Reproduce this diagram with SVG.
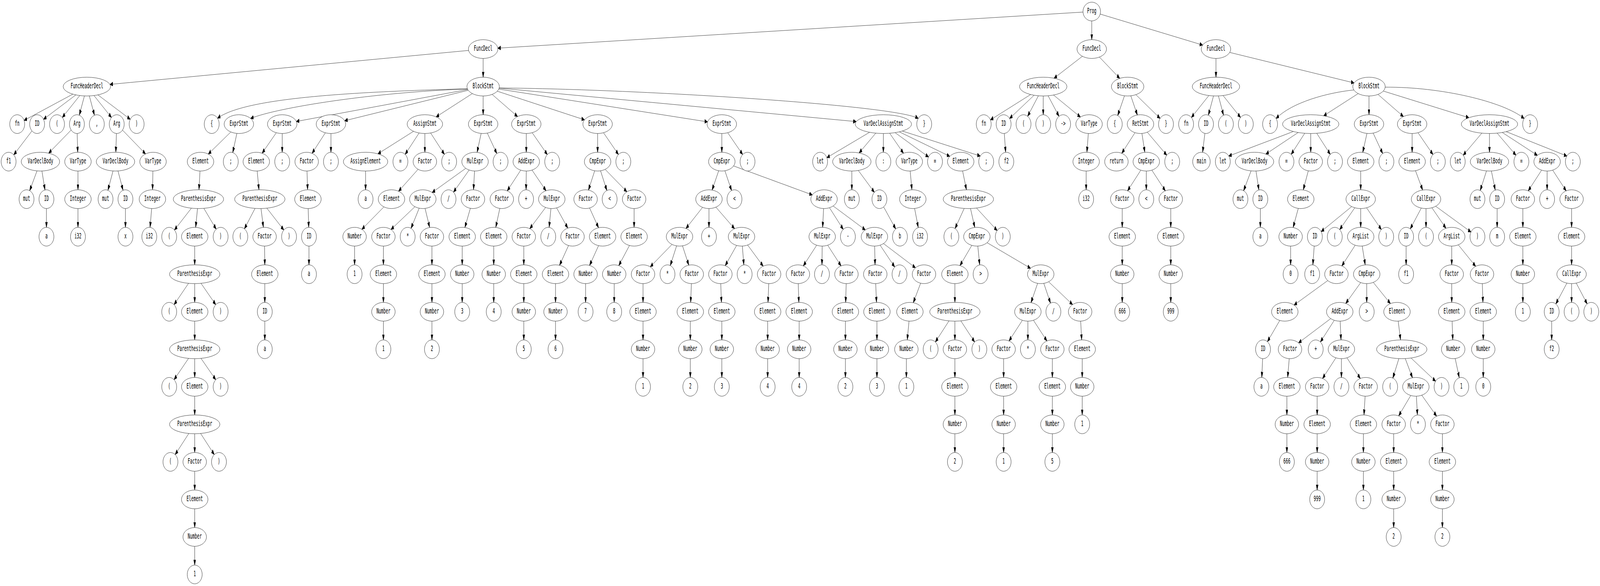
<svg xmlns="http://www.w3.org/2000/svg" width="7716" height="1499" viewBox="0 0 7716 1499" preserveAspectRatio="none" style="width:100vw;height:100vh;display:block">
<style>
.n ellipse{fill:#fff;stroke:#000;stroke-width:1}
.n text{font-family:"DejaVu Sans Mono","Liberation Mono",monospace;font-size:18.67px;text-anchor:middle;fill:#000;transform:translateY(-0.8px)}
.e path{fill:none;stroke:#000;stroke-width:1;marker-end:url(#ah)}
</style>
<defs>
<marker id="ah" markerUnits="userSpaceOnUse" markerWidth="15" markerHeight="11" refX="14" refY="5.2" orient="auto"><path d="M0,0 L14,5.2 L0,10.4 z" fill="#000" stroke="#000" stroke-width="1"/></marker>
</defs>
<rect width="7716" height="1499" fill="#fff"/>
<g id="edges" class="e">
<path d="M5222.8,30.9 L2400.7,123.2"/>
<path d="M5265,53.5 L5265,101.5"/>
<path d="M5305.7,36 L5799.7,115.2"/>
<path d="M2259.7,129 L530.2,215.9"/>
<path d="M2330,149.5 L2330,197.5"/>
<path d="M5219.8,144 L5083.1,200.1"/>
<path d="M5302,146 L5400.1,200.5"/>
<path d="M5864,149.5 L5864,197.5"/>
<path d="M5930.4,134.1 L6529.9,212.1"/>
<path d="M351.3,240.8 L116.1,308"/>
<path d="M365.9,242.7 L209.9,305.1"/>
<path d="M384.7,244.4 L300.5,300.5"/>
<path d="M407.1,245.4 L382.4,294.7"/>
<path d="M430.9,245.4 L455.6,294.7"/>
<path d="M453.3,244.4 L537.5,300.5"/>
<path d="M472.1,242.7 L628.1,305.1"/>
<path d="M154.1,334.9 L66.4,396.1"/>
<path d="M343.1,332.7 L234.7,391.8"/>
<path d="M372.2,341.5 L374.8,389.5"/>
<path d="M561.5,341.5 L558.5,389.5"/>
<path d="M590.8,332.8 L701.9,393.7"/>
<path d="M178.5,437.1 L143.2,487.7"/>
<path d="M202.2,437.4 L216.9,486"/>
<path d="M376,437.5 L376,485.5"/>
<path d="M545.1,437.3 L520.4,486.7"/>
<path d="M568.9,437.3 L593.6,486.7"/>
<path d="M737.3,437.5 L735.7,485.5"/>
<path d="M224,533.5 L224,581.5"/>
<path d="M376,533.5 L376,581.5"/>
<path d="M605,533.5 L605,581.5"/>
<path d="M731.3,533.5 L723.7,581.6"/>
<path d="M2254,227 C1700,235 1180,250 1049,302.5"/>
<path d="M2254.4,227.7 C1800,236 1340,275 1208.6,302.9"/>
<path d="M2255.5,228.9 L1429.2,310.7"/>
<path d="M2258,230.9 L1662.3,308.8"/>
<path d="M2277.7,239.4 L2103.3,299"/>
<path d="M2330,245.5 L2330,293.5"/>
<path d="M2373.3,241.5 L2496,298.1"/>
<path d="M2398.1,233.3 L2818.8,306.5"/>
<path d="M2405.5,227.8 L3412,311.7"/>
<path d="M2407.4,225.4 L4129,311"/>
<path d="M2408,225 C3100,228 4330,270 4428.2,303.1"/>
<path d="M1113.2,337.6 L1004.4,394.1"/>
<path d="M1142.3,341.3 L1122.4,390.3"/>
<path d="M964.5,437.5 L959.5,485.5"/>
<path d="M923.1,532.5 L841.2,588.4"/>
<path d="M952.5,533.5 L943.5,581.5"/>
<path d="M983.1,532.9 L1042.5,586.2"/>
<path d="M939,629.5 L939,677.5"/>
<path d="M909.2,724.8 L839.4,779.3"/>
<path d="M939,725.5 L939,773.5"/>
<path d="M969.3,724.7 L1040.4,779.4"/>
<path d="M939,821.5 L939,869.5"/>
<path d="M909.2,916.8 L839.4,971.3"/>
<path d="M939,917.5 L939,965.5"/>
<path d="M969.3,916.7 L1040.4,971.4"/>
<path d="M939,1013.5 L939,1061.5"/>
<path d="M910.6,1108.8 L844.7,1162.9"/>
<path d="M939,1109.5 L939,1157.5"/>
<path d="M967.4,1108.8 L1033.3,1162.9"/>
<path d="M939,1205.5 L939,1253.5"/>
<path d="M939,1301.5 L939,1349.5"/>
<path d="M939,1397.5 L939,1445.5"/>
<path d="M1332.4,339.5 L1264.1,391.9"/>
<path d="M1361,341.5 L1361,389.5"/>
<path d="M1240.2,437.5 L1248.8,485.5"/>
<path d="M1229.9,533.1 L1178.7,585.4"/>
<path d="M1258.7,533.5 L1270.3,581.5"/>
<path d="M1286.9,532.5 L1368.8,588.4"/>
<path d="M1276,629.5 L1277,677.5"/>
<path d="M1277,725.5 L1277,773.5"/>
<path d="M1277,821.5 L1277,869.5"/>
<path d="M1569,339.7 L1505,392.2"/>
<path d="M1596,341.5 L1596,389.5"/>
<path d="M1480.5,437.5 L1483.5,485.5"/>
<path d="M1486.2,533.5 L1488.8,581.5"/>
<path d="M1490,629.5 L1490,677.5"/>
<path d="M1994.2,335.9 L1822.5,393.5"/>
<path d="M2021.1,340.2 L1953.8,394.9"/>
<path d="M2049,341.5 L2049,389.5"/>
<path d="M2076.7,340.2 L2143.3,394.9"/>
<path d="M1763,437.5 L1763,485.5"/>
<path d="M2016.2,433.1 L1922.1,489.2"/>
<path d="M1851.5,529.2 L1745,586.6"/>
<path d="M1710,629.5 L1710,677.5"/>
<path d="M2320.3,341.3 L2300.6,389.8"/>
<path d="M2350.1,340.5 L2395.9,392.8"/>
<path d="M2246.1,430.6 L2083.9,492.4"/>
<path d="M2262.4,435 L2186.9,491.6"/>
<path d="M2288.5,437.5 L2283.5,485.5"/>
<path d="M2000.9,528.8 L1885.4,587.1"/>
<path d="M2021.5,532.6 L1982.3,584.1"/>
<path d="M2050,533.4 L2072.2,581.9"/>
<path d="M1849,629.5 L1849,677.5"/>
<path d="M1849,725.5 L1849,773.5"/>
<path d="M1849,821.5 L1849,869.5"/>
<path d="M2083,629.5 L2083,677.5"/>
<path d="M2083,725.5 L2083,773.5"/>
<path d="M2083,821.5 L2083,869.5"/>
<path d="M2268.3,532.9 L2241.7,582"/>
<path d="M2229,629.5 L2229,677.5"/>
<path d="M2229,725.5 L2229,773.5"/>
<path d="M2538,341.5 L2538,389.5"/>
<path d="M2566.6,339.5 L2639.4,395.4"/>
<path d="M2511.2,435.3 L2446.2,488.2"/>
<path d="M2538,437.5 L2537,485.5"/>
<path d="M2565.7,435.1 L2633.3,487.9"/>
<path d="M2410.4,533.1 L2390.6,581.8"/>
<path d="M2381,629.5 L2381,677.5"/>
<path d="M2381,725.5 L2381,773.5"/>
<path d="M2631.2,530.7 L2555,584.9"/>
<path d="M2656.8,533.5 L2648.2,581.5"/>
<path d="M2684.3,531.8 L2738.1,583.5"/>
<path d="M2526,629.5 L2526,677.5"/>
<path d="M2526,725.5 L2526,773.5"/>
<path d="M2526,821.5 L2526,869.5"/>
<path d="M2741.7,628.1 L2698.5,678.6"/>
<path d="M2679,725.5 L2679,773.5"/>
<path d="M2679,821.5 L2679,869.5"/>
<path d="M2882,341.5 L2882,389.5"/>
<path d="M2910.4,339.5 L2982.5,395.3"/>
<path d="M2867.9,436.9 L2838,486.2"/>
<path d="M2896.1,436.9 L2926.5,487.2"/>
<path d="M2918.3,433.3 L3023.2,490.5"/>
<path d="M2843.3,532.1 L2886.5,582.6"/>
<path d="M2886.5,628.4 L2843.3,678.9"/>
<path d="M2824,725.5 L2824,773.5"/>
<path d="M3058,533.5 L3058,581.5"/>
<path d="M3035.5,628 L2984.1,679.4"/>
<path d="M2962,725.5 L2962,773.5"/>
<path d="M3481,341.5 L3481,389.5"/>
<path d="M3509.4,339.5 L3581.5,395.3"/>
<path d="M3465.9,436.8 L3434.1,486.2"/>
<path d="M3495.8,436.8 L3528,487.4"/>
<path d="M3537.7,424.5 L3917.3,498.5"/>
<path d="M3388,530.5 L3308,584.5"/>
<path d="M3419,533.5 L3419,581.5"/>
<path d="M3452.4,529.9 L3542.6,585.1"/>
<path d="M3240.7,625.3 L3135.8,682.5"/>
<path d="M3262.9,628.9 L3232.5,679.2"/>
<path d="M3291.4,628.9 L3321.7,678.3"/>
<path d="M3101,725.5 L3101,773.5"/>
<path d="M3101,821.5 L3101,869.5"/>
<path d="M3101,917.5 L3101,965.5"/>
<path d="M3334.2,725.5 L3330.8,773.5"/>
<path d="M3329,821.5 L3329,869.5"/>
<path d="M3329,917.5 L3329,965.5"/>
<path d="M3552.3,627.8 L3497.3,679.6"/>
<path d="M3579.8,629.5 L3587.3,677.6"/>
<path d="M3605.5,626.8 L3680.3,680.8"/>
<path d="M3475.8,725.5 L3479.2,773.5"/>
<path d="M3481,821.5 L3481,869.5"/>
<path d="M3481,917.5 L3481,965.5"/>
<path d="M3707.2,725.5 L3703.8,773.5"/>
<path d="M3702,821.5 L3702,869.5"/>
<path d="M3702,917.5 L3702,965.5"/>
<path d="M3971.8,533.5 L3967.2,581.5"/>
<path d="M4000.2,531.4 L4066.5,586.7"/>
<path d="M4018,526.9 L4173,588.1"/>
<path d="M3938.4,627.3 L3874,680.2"/>
<path d="M3965,629.5 L3964,677.5"/>
<path d="M3991.6,627.3 L4056,680.2"/>
<path d="M3849.5,725.5 L3852.5,773.5"/>
<path d="M3854,821.5 L3854,869.5"/>
<path d="M3854,917.5 L3854,965.5"/>
<path d="M4080.8,725.5 L4078.2,773.5"/>
<path d="M4077,821.5 L4077,869.5"/>
<path d="M4077,917.5 L4077,965.5"/>
<path d="M4218,629.5 L4220,677.5"/>
<path d="M4244.3,627.2 L4314.8,683.1"/>
<path d="M4260.6,623 L4414.9,685"/>
<path d="M4223,725.5 L4227,773.5"/>
<path d="M4229,821.5 L4229,869.5"/>
<path d="M4229,917.5 L4229,965.5"/>
<path d="M4439.7,724.5 L4404.4,774.3"/>
<path d="M4383.8,821.5 L4375.2,869.5"/>
<path d="M4371,917.5 L4371,965.5"/>
<path d="M4193.5,338.4 L3987.5,403.3"/>
<path d="M4223.4,340.6 L4143.2,391.3"/>
<path d="M4260,341.5 L4260,389.5"/>
<path d="M4290.5,340.9 L4356.9,391.9"/>
<path d="M4316.6,339.3 L4477.9,401.5"/>
<path d="M4337,337.3 L4580.3,399.9"/>
<path d="M4351.6,335.2 L4727.2,399.1"/>
<path d="M4108,437.5 L4108,485.5"/>
<path d="M4139.3,436.1 L4216.6,491.9"/>
<path d="M4261.4,529.3 L4319.6,585.7"/>
<path d="M4389.2,437.5 L4397.8,485.5"/>
<path d="M4410.7,533.3 L4428.5,582.2"/>
<path d="M4642.1,437.3 L4660.8,485.6"/>
<path d="M4649.8,533.2 L4605.8,584.6"/>
<path d="M4680.2,533.4 L4700.9,581.8"/>
<path d="M4709.3,532.2 L4808.8,589.8"/>
<path d="M4686.5,627.7 L4629.5,679.3"/>
<path d="M4715.5,629.5 L4724.5,677.5"/>
<path d="M4760.2,620.8 L4969.8,686.2"/>
<path d="M4605,725.5 L4605,773.5"/>
<path d="M4576.6,820.8 L4510.7,874.9"/>
<path d="M4605,821.5 L4605,869.5"/>
<path d="M4633.7,820.8 L4700.2,874.9"/>
<path d="M4605,917.5 L4605,965.5"/>
<path d="M4605,1013.5 L4605,1061.5"/>
<path d="M4605,1109.5 L4605,1157.5"/>
<path d="M5003.9,724.8 L4972.1,774.2"/>
<path d="M5033.8,724.8 L5066,775.4"/>
<path d="M5057.1,720.8 L5172.6,779.1"/>
<path d="M4930.4,819.3 L4866,872.2"/>
<path d="M4957,821.5 L4957,869.5"/>
<path d="M4983.8,819.3 L5048.8,872.2"/>
<path d="M4840,917.5 L4840,965.5"/>
<path d="M4840,1013.5 L4840,1061.5"/>
<path d="M4840,1109.5 L4840,1157.5"/>
<path d="M5075,917.5 L5075,965.5"/>
<path d="M5075,1013.5 L5075,1061.5"/>
<path d="M5075,1109.5 L5075,1157.5"/>
<path d="M5211.5,821.5 L5216.5,869.5"/>
<path d="M5219,917.5 L5219,965.5"/>
<path d="M5219,1013.5 L5219,1061.5"/>
<path d="M4970.2,241.8 L4776.2,306.7"/>
<path d="M4987,243.6 L4868.7,303.1"/>
<path d="M5007.7,245 L4955.8,297.5"/>
<path d="M5031,245.5 L5031,293.5"/>
<path d="M5054.5,245 L5107,297.5"/>
<path d="M5080.7,243.1 L5210.2,299.3"/>
<path d="M4843.2,341.5 L4849.8,389.5"/>
<path d="M5248.5,341.5 L5241.5,389.5"/>
<path d="M5238,437.5 L5238,485.5"/>
<path d="M5422.8,245 L5390.2,295.5"/>
<path d="M5453.2,245 L5484.9,294.2"/>
<path d="M5477.8,242.2 L5594.6,302.8"/>
<path d="M5473.6,339.3 L5409.8,392.1"/>
<path d="M5507,341.4 L5521,389.6"/>
<path d="M5532.8,338.1 L5626.8,397.1"/>
<path d="M5501.6,435.3 L5437.8,488.1"/>
<path d="M5528,437.5 L5528,485.5"/>
<path d="M5554.8,435.3 L5619.8,488.2"/>
<path d="M5412,533.5 L5412,581.5"/>
<path d="M5412,629.5 L5412,677.5"/>
<path d="M5412,725.5 L5412,773.5"/>
<path d="M5646,533.5 L5646,581.5"/>
<path d="M5646,629.5 L5646,677.5"/>
<path d="M5646,725.5 L5646,773.5"/>
<path d="M5829.7,244.4 L5745.5,300.5"/>
<path d="M5852.1,245.4 L5827.4,294.7"/>
<path d="M5875.9,245.4 L5900.6,294.7"/>
<path d="M5898.3,244.4 L5982.5,300.5"/>
<path d="M5810.5,341.5 L5799.5,389.5"/>
<path d="M6531,230 C6400,237 6230,262 6153.8,303.1"/>
<path d="M6549.7,239.4 L6383.4,296.2"/>
<path d="M6602,245.5 L6602,293.5"/>
<path d="M6645.3,241.5 L6768,298.1"/>
<path d="M6670.9,232.9 L7083.8,301.1"/>
<path d="M6680,223 C6950,222 7250,260 7350.2,303.1"/>
<path d="M6237.4,336.4 L5925.8,399.1"/>
<path d="M6260.3,339 L6104.7,394.1"/>
<path d="M6292.4,340.6 L6226.7,394.9"/>
<path d="M6321,341.5 L6321,389.5"/>
<path d="M6349.6,340.6 L6415.3,394.9"/>
<path d="M6033.3,437.1 L5997.4,487.8"/>
<path d="M6057,437.4 L6071.1,486"/>
<path d="M6078,533.5 L6078,581.5"/>
<path d="M6309.3,437 L6284.8,485.9"/>
<path d="M6261,533 L6236,582"/>
<path d="M6224,629.5 L6224,677.5"/>
<path d="M6592.1,341.3 L6571.9,389.8"/>
<path d="M6622.1,340.5 L6667.9,392.8"/>
<path d="M6562,437.5 L6562,485.5"/>
<path d="M6518.4,528.5 L6371.2,592.4"/>
<path d="M6533.4,531.5 L6460.6,587.4"/>
<path d="M6562,533.5 L6562,581.5"/>
<path d="M6590.2,531.5 L6661.6,587.3"/>
<path d="M6337.8,629.5 L6331.2,677.5"/>
<path d="M6535.4,627.3 L6471,680.2"/>
<path d="M6569.2,629.4 L6583.8,677.6"/>
<path d="M6403.1,717.7 L6240.6,780.3"/>
<path d="M6171.7,819.7 L6112.2,874.1"/>
<path d="M6089,917.5 L6085,965.5"/>
<path d="M6562,722.9 L6490,776.1"/>
<path d="M6591,725.5 L6591,773.5"/>
<path d="M6622.7,722.4 L6705.3,776.6"/>
<path d="M6417.3,815 L6262.2,877"/>
<path d="M6434.6,819.3 L6367.6,874.8"/>
<path d="M6463,821.5 L6467,869.5"/>
<path d="M6217.3,917.5 L6209.7,965.5"/>
<path d="M6206,1013.5 L6206,1061.5"/>
<path d="M6206,1109.5 L6206,1157.5"/>
<path d="M6442.4,915.3 L6378,968.2"/>
<path d="M6469,917.5 L6469,965.5"/>
<path d="M6495.6,915.3 L6560,968.2"/>
<path d="M6352,1013.5 L6352,1061.5"/>
<path d="M6352,1109.5 L6352,1157.5"/>
<path d="M6352,1205.5 L6352,1253.5"/>
<path d="M6583.3,1013.5 L6577.7,1061.5"/>
<path d="M6575,1109.5 L6575,1157.5"/>
<path d="M6575,1205.5 L6575,1253.5"/>
<path d="M6742.7,821.5 L6754.3,869.5"/>
<path d="M6746.1,917.3 L6717,967.2"/>
<path d="M6776.9,917.3 L6811.6,966.3"/>
<path d="M6804.6,915.8 L6923.2,975.1"/>
<path d="M6803.3,1011.6 L6745.2,1063.8"/>
<path d="M6830.5,1013.5 L6835.5,1061.5"/>
<path d="M6856.6,1011 L6928.1,1064.6"/>
<path d="M6721,1109.5 L6721,1157.5"/>
<path d="M6721,1205.5 L6721,1253.5"/>
<path d="M6721,1301.5 L6721,1349.5"/>
<path d="M6956,1109.5 L6956,1157.5"/>
<path d="M6956,1205.5 L6956,1253.5"/>
<path d="M6956,1301.5 L6956,1349.5"/>
<path d="M6810,341.5 L6810,389.5"/>
<path d="M6838.4,339.5 L6910.5,395.3"/>
<path d="M6826.2,436.7 L6860.7,486.1"/>
<path d="M6854.3,532.2 L6801,585.5"/>
<path d="M6877,533.5 L6877,581.5"/>
<path d="M6905.4,531.5 L6973.1,583.9"/>
<path d="M6923.7,527.6 L7093.9,593.5"/>
<path d="M6781,629.5 L6781,677.5"/>
<path d="M7001,629.5 L7001,677.5"/>
<path d="M7032.7,626.4 L7116.3,681.3"/>
<path d="M7001,725.5 L7001,773.5"/>
<path d="M7002.8,821.5 L7006.2,869.5"/>
<path d="M7017.6,917.1 L7037.6,966.3"/>
<path d="M7148.5,725.5 L7151.5,773.5"/>
<path d="M7153,821.5 L7153,869.5"/>
<path d="M7153,917.5 L7153,965.5"/>
<path d="M7146.2,340.6 L7056.2,397.1"/>
<path d="M7183,341.5 L7183,389.5"/>
<path d="M7220,340.6 L7310.7,397.1"/>
<path d="M7244.9,338.9 L7414,397.3"/>
<path d="M7263.8,336.8 L7556.2,399.1"/>
<path d="M7168.7,437.2 L7138.5,487.2"/>
<path d="M7192.2,437.3 L7211,486.3"/>
<path d="M7220,533.5 L7220,581.5"/>
<path d="M7434.4,435.3 L7370,488.2"/>
<path d="M7461,437.5 L7461,485.5"/>
<path d="M7487.8,435.3 L7552.8,488.2"/>
<path d="M7344,533.5 L7344,581.5"/>
<path d="M7344,629.5 L7344,677.5"/>
<path d="M7344,725.5 L7344,773.5"/>
<path d="M7579,533.5 L7579,581.5"/>
<path d="M7579,629.5 L7579,677.5"/>
<path d="M7556.3,724.2 L7503,777.5"/>
<path d="M7579,725.5 L7579,773.5"/>
<path d="M7601.5,724.2 L7654.2,777.5"/>
<path d="M7483,821.5 L7483,869.5"/>
</g>
<g id="nodes">
<g id="n1" class="n"><ellipse cx="5265" cy="29.5" rx="42.3" ry="24"/><text x="5265" y="35.1">Prog</text></g>
<g id="n2" class="n"><ellipse cx="2330" cy="125.5" rx="71.1" ry="24"/><text x="2330" y="131.1">FuncDecl</text></g>
<g id="n3" class="n"><ellipse cx="5265" cy="125.5" rx="71.1" ry="24"/><text x="5265" y="131.1">FuncDecl</text></g>
<g id="n4" class="n"><ellipse cx="5864" cy="125.5" rx="71.1" ry="24"/><text x="5864" y="131.1">FuncDecl</text></g>
<g id="n5" class="n"><ellipse cx="419" cy="221.5" rx="114.3" ry="24"/><text x="419" y="227.1">FuncHeaderDecl</text></g>
<g id="n6" class="n"><ellipse cx="2330" cy="221.5" rx="78.3" ry="24"/><text x="2330" y="227.1">BlockStmt</text></g>
<g id="n7" class="n"><ellipse cx="83" cy="317.5" rx="36" ry="24"/><text x="83" y="323.1">fn</text></g>
<g id="n8" class="n"><ellipse cx="179" cy="317.5" rx="36" ry="24"/><text x="179" y="323.1">ID</text></g>
<g id="n9" class="n"><ellipse cx="275" cy="317.5" rx="36" ry="24"/><text x="275" y="323.1">(</text></g>
<g id="n10" class="n"><ellipse cx="371" cy="317.5" rx="36" ry="24"/><text x="371" y="323.1">Arg</text></g>
<g id="n11" class="n"><ellipse cx="467" cy="317.5" rx="36" ry="24"/><text x="467" y="323.1">,</text></g>
<g id="n12" class="n"><ellipse cx="563" cy="317.5" rx="36" ry="24"/><text x="563" y="323.1">Arg</text></g>
<g id="n13" class="n"><ellipse cx="659" cy="317.5" rx="36" ry="24"/><text x="659" y="323.1">)</text></g>
<g id="n14" class="n"><ellipse cx="41.5" cy="413.5" rx="36" ry="24"/><text x="41.5" y="419.1">f1</text></g>
<g id="n15" class="n"><ellipse cx="195" cy="413.5" rx="92.7" ry="24"/><text x="195" y="419.1">VarDeclBody</text></g>
<g id="n16" class="n"><ellipse cx="376" cy="413.5" rx="63.9" ry="24"/><text x="376" y="419.1">VarType</text></g>
<g id="n17" class="n"><ellipse cx="557" cy="413.5" rx="92.7" ry="24"/><text x="557" y="419.1">VarDeclBody</text></g>
<g id="n18" class="n"><ellipse cx="738" cy="413.5" rx="63.9" ry="24"/><text x="738" y="419.1">VarType</text></g>
<g id="n19" class="n"><ellipse cx="128" cy="509.5" rx="36" ry="24"/><text x="128" y="515.1">mut</text></g>
<g id="n20" class="n"><ellipse cx="224" cy="509.5" rx="36" ry="24"/><text x="224" y="515.1">ID</text></g>
<g id="n21" class="n"><ellipse cx="376" cy="509.5" rx="63.9" ry="24"/><text x="376" y="515.1">Integer</text></g>
<g id="n22" class="n"><ellipse cx="509" cy="509.5" rx="36" ry="24"/><text x="509" y="515.1">mut</text></g>
<g id="n23" class="n"><ellipse cx="605" cy="509.5" rx="36" ry="24"/><text x="605" y="515.1">ID</text></g>
<g id="n24" class="n"><ellipse cx="735" cy="509.5" rx="63.9" ry="24"/><text x="735" y="515.1">Integer</text></g>
<g id="n25" class="n"><ellipse cx="224" cy="605.5" rx="36" ry="24"/><text x="224" y="611.1">a</text></g>
<g id="n26" class="n"><ellipse cx="376" cy="605.5" rx="36" ry="24"/><text x="376" y="611.1">i32</text></g>
<g id="n27" class="n"><ellipse cx="605" cy="605.5" rx="36" ry="24"/><text x="605" y="611.1">x</text></g>
<g id="n28" class="n"><ellipse cx="720" cy="605.5" rx="36" ry="24"/><text x="720" y="611.1">i32</text></g>
<g id="n29" class="n"><ellipse cx="1021" cy="317.5" rx="36" ry="24"/><text x="1021" y="323.1">{</text></g>
<g id="n30" class="n"><ellipse cx="1152" cy="317.5" rx="71.1" ry="24"/><text x="1152" y="323.1">ExprStmt</text></g>
<g id="n31" class="n"><ellipse cx="1361" cy="317.5" rx="71.1" ry="24"/><text x="1361" y="323.1">ExprStmt</text></g>
<g id="n32" class="n"><ellipse cx="1596" cy="317.5" rx="71.1" ry="24"/><text x="1596" y="323.1">ExprStmt</text></g>
<g id="n33" class="n"><ellipse cx="2049" cy="317.5" rx="85.5" ry="24"/><text x="2049" y="323.1">AssignStmt</text></g>
<g id="n34" class="n"><ellipse cx="2330" cy="317.5" rx="71.1" ry="24"/><text x="2330" y="323.1">ExprStmt</text></g>
<g id="n35" class="n"><ellipse cx="2538" cy="317.5" rx="71.1" ry="24"/><text x="2538" y="323.1">ExprStmt</text></g>
<g id="n36" class="n"><ellipse cx="2882" cy="317.5" rx="71.1" ry="24"/><text x="2882" y="323.1">ExprStmt</text></g>
<g id="n37" class="n"><ellipse cx="3481" cy="317.5" rx="71.1" ry="24"/><text x="3481" y="323.1">ExprStmt</text></g>
<g id="n38" class="n"><ellipse cx="4260" cy="317.5" rx="135.9" ry="24"/><text x="4260" y="323.1">VarDeclAssignStmt</text></g>
<g id="n39" class="n"><ellipse cx="4457" cy="317.5" rx="36" ry="24"/><text x="4457" y="323.1">}</text></g>
<g id="n40" class="n"><ellipse cx="967" cy="413.5" rx="63.9" ry="24"/><text x="967" y="419.1">Element</text></g>
<g id="n41" class="n"><ellipse cx="1113" cy="413.5" rx="36" ry="24"/><text x="1113" y="419.1">;</text></g>
<g id="n42" class="n"><ellipse cx="957" cy="509.5" rx="121.5" ry="24"/><text x="957" y="515.1">ParenthesisExpr</text></g>
<g id="n43" class="n"><ellipse cx="816" cy="605.5" rx="36" ry="24"/><text x="816" y="611.1">(</text></g>
<g id="n44" class="n"><ellipse cx="939" cy="605.5" rx="63.9" ry="24"/><text x="939" y="611.1">Element</text></g>
<g id="n45" class="n"><ellipse cx="1064" cy="605.5" rx="36" ry="24"/><text x="1064" y="611.1">)</text></g>
<g id="n46" class="n"><ellipse cx="939" cy="701.5" rx="121.5" ry="24"/><text x="939" y="707.1">ParenthesisExpr</text></g>
<g id="n47" class="n"><ellipse cx="816" cy="797.5" rx="36" ry="24"/><text x="816" y="803.1">(</text></g>
<g id="n48" class="n"><ellipse cx="939" cy="797.5" rx="63.9" ry="24"/><text x="939" y="803.1">Element</text></g>
<g id="n49" class="n"><ellipse cx="1064" cy="797.5" rx="36" ry="24"/><text x="1064" y="803.1">)</text></g>
<g id="n50" class="n"><ellipse cx="939" cy="893.5" rx="121.5" ry="24"/><text x="939" y="899.1">ParenthesisExpr</text></g>
<g id="n51" class="n"><ellipse cx="816" cy="989.5" rx="36" ry="24"/><text x="816" y="995.1">(</text></g>
<g id="n52" class="n"><ellipse cx="939" cy="989.5" rx="63.9" ry="24"/><text x="939" y="995.1">Element</text></g>
<g id="n53" class="n"><ellipse cx="1064" cy="989.5" rx="36" ry="24"/><text x="1064" y="995.1">)</text></g>
<g id="n54" class="n"><ellipse cx="939" cy="1085.5" rx="121.5" ry="24"/><text x="939" y="1091.1">ParenthesisExpr</text></g>
<g id="n55" class="n"><ellipse cx="822" cy="1181.5" rx="36" ry="24"/><text x="822" y="1187.1">(</text></g>
<g id="n56" class="n"><ellipse cx="939" cy="1181.5" rx="56.7" ry="24"/><text x="939" y="1187.1">Factor</text></g>
<g id="n57" class="n"><ellipse cx="1056" cy="1181.5" rx="36" ry="24"/><text x="1056" y="1187.1">)</text></g>
<g id="n58" class="n"><ellipse cx="939" cy="1277.5" rx="63.9" ry="24"/><text x="939" y="1283.1">Element</text></g>
<g id="n59" class="n"><ellipse cx="939" cy="1373.5" rx="56.7" ry="24"/><text x="939" y="1379.1">Number</text></g>
<g id="n60" class="n"><ellipse cx="939" cy="1469.5" rx="36" ry="24"/><text x="939" y="1475.1">1</text></g>
<g id="n61" class="n"><ellipse cx="1236" cy="413.5" rx="63.9" ry="24"/><text x="1236" y="419.1">Element</text></g>
<g id="n62" class="n"><ellipse cx="1361" cy="413.5" rx="36" ry="24"/><text x="1361" y="419.1">;</text></g>
<g id="n63" class="n"><ellipse cx="1253" cy="509.5" rx="121.5" ry="24"/><text x="1253" y="515.1">ParenthesisExpr</text></g>
<g id="n64" class="n"><ellipse cx="1159" cy="605.5" rx="36" ry="24"/><text x="1159" y="611.1">(</text></g>
<g id="n65" class="n"><ellipse cx="1276" cy="605.5" rx="56.7" ry="24"/><text x="1276" y="611.1">Factor</text></g>
<g id="n66" class="n"><ellipse cx="1394" cy="605.5" rx="36" ry="24"/><text x="1394" y="611.1">)</text></g>
<g id="n67" class="n"><ellipse cx="1277" cy="701.5" rx="63.9" ry="24"/><text x="1277" y="707.1">Element</text></g>
<g id="n68" class="n"><ellipse cx="1277" cy="797.5" rx="36" ry="24"/><text x="1277" y="803.1">ID</text></g>
<g id="n69" class="n"><ellipse cx="1277" cy="893.5" rx="36" ry="24"/><text x="1277" y="899.1">a</text></g>
<g id="n70" class="n"><ellipse cx="1479" cy="413.5" rx="56.7" ry="24"/><text x="1479" y="419.1">Factor</text></g>
<g id="n71" class="n"><ellipse cx="1596" cy="413.5" rx="36" ry="24"/><text x="1596" y="419.1">;</text></g>
<g id="n72" class="n"><ellipse cx="1485" cy="509.5" rx="63.9" ry="24"/><text x="1485" y="515.1">Element</text></g>
<g id="n73" class="n"><ellipse cx="1490" cy="605.5" rx="36" ry="24"/><text x="1490" y="611.1">ID</text></g>
<g id="n74" class="n"><ellipse cx="1490" cy="701.5" rx="36" ry="24"/><text x="1490" y="707.1">a</text></g>
<g id="n75" class="n"><ellipse cx="1763" cy="413.5" rx="107.1" ry="24"/><text x="1763" y="419.1">AssignElement</text></g>
<g id="n76" class="n"><ellipse cx="1931" cy="413.5" rx="36" ry="24"/><text x="1931" y="419.1">=</text></g>
<g id="n77" class="n"><ellipse cx="2049" cy="413.5" rx="56.7" ry="24"/><text x="2049" y="419.1">Factor</text></g>
<g id="n78" class="n"><ellipse cx="2166" cy="413.5" rx="36" ry="24"/><text x="2166" y="419.1">;</text></g>
<g id="n79" class="n"><ellipse cx="1763" cy="509.5" rx="36" ry="24"/><text x="1763" y="515.1">a</text></g>
<g id="n80" class="n"><ellipse cx="1888" cy="509.5" rx="63.9" ry="24"/><text x="1888" y="515.1">Element</text></g>
<g id="n81" class="n"><ellipse cx="1710" cy="605.5" rx="56.7" ry="24"/><text x="1710" y="611.1">Number</text></g>
<g id="n82" class="n"><ellipse cx="1710" cy="701.5" rx="36" ry="24"/><text x="1710" y="707.1">1</text></g>
<g id="n83" class="n"><ellipse cx="2291" cy="413.5" rx="63.9" ry="24"/><text x="2291" y="419.1">MulExpr</text></g>
<g id="n84" class="n"><ellipse cx="2414" cy="413.5" rx="36" ry="24"/><text x="2414" y="419.1">;</text></g>
<g id="n85" class="n"><ellipse cx="2039" cy="509.5" rx="63.9" ry="24"/><text x="2039" y="515.1">MulExpr</text></g>
<g id="n86" class="n"><ellipse cx="2163" cy="509.5" rx="36" ry="24"/><text x="2163" y="515.1">/</text></g>
<g id="n87" class="n"><ellipse cx="2281" cy="509.5" rx="56.7" ry="24"/><text x="2281" y="515.1">Factor</text></g>
<g id="n88" class="n"><ellipse cx="1849" cy="605.5" rx="56.7" ry="24"/><text x="1849" y="611.1">Factor</text></g>
<g id="n89" class="n"><ellipse cx="1966" cy="605.5" rx="36" ry="24"/><text x="1966" y="611.1">*</text></g>
<g id="n90" class="n"><ellipse cx="2083" cy="605.5" rx="56.7" ry="24"/><text x="2083" y="611.1">Factor</text></g>
<g id="n91" class="n"><ellipse cx="2229" cy="605.5" rx="63.9" ry="24"/><text x="2229" y="611.1">Element</text></g>
<g id="n92" class="n"><ellipse cx="1849" cy="701.5" rx="63.9" ry="24"/><text x="1849" y="707.1">Element</text></g>
<g id="n93" class="n"><ellipse cx="2083" cy="701.5" rx="63.9" ry="24"/><text x="2083" y="707.1">Element</text></g>
<g id="n94" class="n"><ellipse cx="2229" cy="701.5" rx="56.7" ry="24"/><text x="2229" y="707.1">Number</text></g>
<g id="n95" class="n"><ellipse cx="1849" cy="797.5" rx="56.7" ry="24"/><text x="1849" y="803.1">Number</text></g>
<g id="n96" class="n"><ellipse cx="2083" cy="797.5" rx="56.7" ry="24"/><text x="2083" y="803.1">Number</text></g>
<g id="n97" class="n"><ellipse cx="2229" cy="797.5" rx="36" ry="24"/><text x="2229" y="803.1">3</text></g>
<g id="n98" class="n"><ellipse cx="1849" cy="893.5" rx="36" ry="24"/><text x="1849" y="899.1">1</text></g>
<g id="n99" class="n"><ellipse cx="2083" cy="893.5" rx="36" ry="24"/><text x="2083" y="899.1">2</text></g>
<g id="n100" class="n"><ellipse cx="2538" cy="413.5" rx="63.9" ry="24"/><text x="2538" y="419.1">AddExpr</text></g>
<g id="n101" class="n"><ellipse cx="2663" cy="413.5" rx="36" ry="24"/><text x="2663" y="419.1">;</text></g>
<g id="n102" class="n"><ellipse cx="2420" cy="509.5" rx="56.7" ry="24"/><text x="2420" y="515.1">Factor</text></g>
<g id="n103" class="n"><ellipse cx="2537" cy="509.5" rx="36" ry="24"/><text x="2537" y="515.1">+</text></g>
<g id="n104" class="n"><ellipse cx="2661" cy="509.5" rx="63.9" ry="24"/><text x="2661" y="515.1">MulExpr</text></g>
<g id="n105" class="n"><ellipse cx="2381" cy="605.5" rx="63.9" ry="24"/><text x="2381" y="611.1">Element</text></g>
<g id="n106" class="n"><ellipse cx="2526" cy="605.5" rx="56.7" ry="24"/><text x="2526" y="611.1">Factor</text></g>
<g id="n107" class="n"><ellipse cx="2644" cy="605.5" rx="36" ry="24"/><text x="2644" y="611.1">/</text></g>
<g id="n108" class="n"><ellipse cx="2761" cy="605.5" rx="56.7" ry="24"/><text x="2761" y="611.1">Factor</text></g>
<g id="n109" class="n"><ellipse cx="2381" cy="701.5" rx="56.7" ry="24"/><text x="2381" y="707.1">Number</text></g>
<g id="n110" class="n"><ellipse cx="2526" cy="701.5" rx="63.9" ry="24"/><text x="2526" y="707.1">Element</text></g>
<g id="n111" class="n"><ellipse cx="2679" cy="701.5" rx="63.9" ry="24"/><text x="2679" y="707.1">Element</text></g>
<g id="n112" class="n"><ellipse cx="2381" cy="797.5" rx="36" ry="24"/><text x="2381" y="803.1">4</text></g>
<g id="n113" class="n"><ellipse cx="2526" cy="797.5" rx="56.7" ry="24"/><text x="2526" y="803.1">Number</text></g>
<g id="n114" class="n"><ellipse cx="2679" cy="797.5" rx="56.7" ry="24"/><text x="2679" y="803.1">Number</text></g>
<g id="n115" class="n"><ellipse cx="2526" cy="893.5" rx="36" ry="24"/><text x="2526" y="899.1">5</text></g>
<g id="n116" class="n"><ellipse cx="2679" cy="893.5" rx="36" ry="24"/><text x="2679" y="899.1">6</text></g>
<g id="n117" class="n"><ellipse cx="2882" cy="413.5" rx="63.9" ry="24"/><text x="2882" y="419.1">CmpExpr</text></g>
<g id="n118" class="n"><ellipse cx="3006" cy="413.5" rx="36" ry="24"/><text x="3006" y="419.1">;</text></g>
<g id="n119" class="n"><ellipse cx="2824" cy="509.5" rx="56.7" ry="24"/><text x="2824" y="515.1">Factor</text></g>
<g id="n120" class="n"><ellipse cx="2940" cy="509.5" rx="36" ry="24"/><text x="2940" y="515.1">&lt;</text></g>
<g id="n121" class="n"><ellipse cx="3058" cy="509.5" rx="56.7" ry="24"/><text x="3058" y="515.1">Factor</text></g>
<g id="n122" class="n"><ellipse cx="2906" cy="605.5" rx="63.9" ry="24"/><text x="2906" y="611.1">Element</text></g>
<g id="n123" class="n"><ellipse cx="3058" cy="605.5" rx="63.9" ry="24"/><text x="3058" y="611.1">Element</text></g>
<g id="n124" class="n"><ellipse cx="2824" cy="701.5" rx="56.7" ry="24"/><text x="2824" y="707.1">Number</text></g>
<g id="n125" class="n"><ellipse cx="2962" cy="701.5" rx="56.7" ry="24"/><text x="2962" y="707.1">Number</text></g>
<g id="n126" class="n"><ellipse cx="2824" cy="797.5" rx="36" ry="24"/><text x="2824" y="803.1">7</text></g>
<g id="n127" class="n"><ellipse cx="2962" cy="797.5" rx="36" ry="24"/><text x="2962" y="803.1">8</text></g>
<g id="n128" class="n"><ellipse cx="3481" cy="413.5" rx="63.9" ry="24"/><text x="3481" y="419.1">CmpExpr</text></g>
<g id="n129" class="n"><ellipse cx="3605" cy="413.5" rx="36" ry="24"/><text x="3605" y="419.1">;</text></g>
<g id="n130" class="n"><ellipse cx="3419" cy="509.5" rx="63.9" ry="24"/><text x="3419" y="515.1">AddExpr</text></g>
<g id="n131" class="n"><ellipse cx="3542" cy="509.5" rx="36" ry="24"/><text x="3542" y="515.1">&lt;</text></g>
<g id="n132" class="n"><ellipse cx="3974" cy="509.5" rx="63.9" ry="24"/><text x="3974" y="515.1">AddExpr</text></g>
<g id="n133" class="n"><ellipse cx="3277" cy="605.5" rx="63.9" ry="24"/><text x="3277" y="611.1">MulExpr</text></g>
<g id="n134" class="n"><ellipse cx="3419" cy="605.5" rx="36" ry="24"/><text x="3419" y="611.1">+</text></g>
<g id="n135" class="n"><ellipse cx="3576" cy="605.5" rx="63.9" ry="24"/><text x="3576" y="611.1">MulExpr</text></g>
<g id="n136" class="n"><ellipse cx="3965" cy="605.5" rx="63.9" ry="24"/><text x="3965" y="611.1">MulExpr</text></g>
<g id="n137" class="n"><ellipse cx="4089" cy="605.5" rx="36" ry="24"/><text x="4089" y="611.1">-</text></g>
<g id="n138" class="n"><ellipse cx="4217" cy="605.5" rx="63.9" ry="24"/><text x="4217" y="611.1">MulExpr</text></g>
<g id="n139" class="n"><ellipse cx="3101" cy="701.5" rx="56.7" ry="24"/><text x="3101" y="707.1">Factor</text></g>
<g id="n140" class="n"><ellipse cx="3219" cy="701.5" rx="36" ry="24"/><text x="3219" y="707.1">*</text></g>
<g id="n141" class="n"><ellipse cx="3336" cy="701.5" rx="56.7" ry="24"/><text x="3336" y="707.1">Factor</text></g>
<g id="n142" class="n"><ellipse cx="3474" cy="701.5" rx="56.7" ry="24"/><text x="3474" y="707.1">Factor</text></g>
<g id="n143" class="n"><ellipse cx="3591" cy="701.5" rx="36" ry="24"/><text x="3591" y="707.1">*</text></g>
<g id="n144" class="n"><ellipse cx="3709" cy="701.5" rx="56.7" ry="24"/><text x="3709" y="707.1">Factor</text></g>
<g id="n145" class="n"><ellipse cx="3848" cy="701.5" rx="56.7" ry="24"/><text x="3848" y="707.1">Factor</text></g>
<g id="n146" class="n"><ellipse cx="3964" cy="701.5" rx="36" ry="24"/><text x="3964" y="707.1">/</text></g>
<g id="n147" class="n"><ellipse cx="4082" cy="701.5" rx="56.7" ry="24"/><text x="4082" y="707.1">Factor</text></g>
<g id="n148" class="n"><ellipse cx="4221" cy="701.5" rx="56.7" ry="24"/><text x="4221" y="707.1">Factor</text></g>
<g id="n149" class="n"><ellipse cx="4338" cy="701.5" rx="36" ry="24"/><text x="4338" y="707.1">/</text></g>
<g id="n150" class="n"><ellipse cx="4456" cy="701.5" rx="56.7" ry="24"/><text x="4456" y="707.1">Factor</text></g>
<g id="n151" class="n"><ellipse cx="3101" cy="797.5" rx="63.9" ry="24"/><text x="3101" y="803.1">Element</text></g>
<g id="n152" class="n"><ellipse cx="3329" cy="797.5" rx="63.9" ry="24"/><text x="3329" y="803.1">Element</text></g>
<g id="n153" class="n"><ellipse cx="3481" cy="797.5" rx="63.9" ry="24"/><text x="3481" y="803.1">Element</text></g>
<g id="n154" class="n"><ellipse cx="3702" cy="797.5" rx="63.9" ry="24"/><text x="3702" y="803.1">Element</text></g>
<g id="n155" class="n"><ellipse cx="3854" cy="797.5" rx="63.9" ry="24"/><text x="3854" y="803.1">Element</text></g>
<g id="n156" class="n"><ellipse cx="4077" cy="797.5" rx="63.9" ry="24"/><text x="4077" y="803.1">Element</text></g>
<g id="n157" class="n"><ellipse cx="4229" cy="797.5" rx="63.9" ry="24"/><text x="4229" y="803.1">Element</text></g>
<g id="n158" class="n"><ellipse cx="4388" cy="797.5" rx="63.9" ry="24"/><text x="4388" y="803.1">Element</text></g>
<g id="n159" class="n"><ellipse cx="3101" cy="893.5" rx="56.7" ry="24"/><text x="3101" y="899.1">Number</text></g>
<g id="n160" class="n"><ellipse cx="3329" cy="893.5" rx="56.7" ry="24"/><text x="3329" y="899.1">Number</text></g>
<g id="n161" class="n"><ellipse cx="3481" cy="893.5" rx="56.7" ry="24"/><text x="3481" y="899.1">Number</text></g>
<g id="n162" class="n"><ellipse cx="3702" cy="893.5" rx="56.7" ry="24"/><text x="3702" y="899.1">Number</text></g>
<g id="n163" class="n"><ellipse cx="3854" cy="893.5" rx="56.7" ry="24"/><text x="3854" y="899.1">Number</text></g>
<g id="n164" class="n"><ellipse cx="4077" cy="893.5" rx="56.7" ry="24"/><text x="4077" y="899.1">Number</text></g>
<g id="n165" class="n"><ellipse cx="4229" cy="893.5" rx="56.7" ry="24"/><text x="4229" y="899.1">Number</text></g>
<g id="n166" class="n"><ellipse cx="4371" cy="893.5" rx="56.7" ry="24"/><text x="4371" y="899.1">Number</text></g>
<g id="n167" class="n"><ellipse cx="3101" cy="989.5" rx="36" ry="24"/><text x="3101" y="995.1">1</text></g>
<g id="n168" class="n"><ellipse cx="3329" cy="989.5" rx="36" ry="24"/><text x="3329" y="995.1">2</text></g>
<g id="n169" class="n"><ellipse cx="3481" cy="989.5" rx="36" ry="24"/><text x="3481" y="995.1">3</text></g>
<g id="n170" class="n"><ellipse cx="3702" cy="989.5" rx="36" ry="24"/><text x="3702" y="995.1">4</text></g>
<g id="n171" class="n"><ellipse cx="3854" cy="989.5" rx="36" ry="24"/><text x="3854" y="995.1">4</text></g>
<g id="n172" class="n"><ellipse cx="4077" cy="989.5" rx="36" ry="24"/><text x="4077" y="995.1">2</text></g>
<g id="n173" class="n"><ellipse cx="4229" cy="989.5" rx="36" ry="24"/><text x="4229" y="995.1">3</text></g>
<g id="n174" class="n"><ellipse cx="4371" cy="989.5" rx="36" ry="24"/><text x="4371" y="995.1">1</text></g>
<g id="n175" class="n"><ellipse cx="3955" cy="413.5" rx="36" ry="24"/><text x="3955" y="419.1">let</text></g>
<g id="n176" class="n"><ellipse cx="4108" cy="413.5" rx="92.7" ry="24"/><text x="4108" y="419.1">VarDeclBody</text></g>
<g id="n177" class="n"><ellipse cx="4260" cy="413.5" rx="36" ry="24"/><text x="4260" y="419.1">:</text></g>
<g id="n178" class="n"><ellipse cx="4385" cy="413.5" rx="63.9" ry="24"/><text x="4385" y="419.1">VarType</text></g>
<g id="n179" class="n"><ellipse cx="4509" cy="413.5" rx="36" ry="24"/><text x="4509" y="419.1">=</text></g>
<g id="n180" class="n"><ellipse cx="4633" cy="413.5" rx="63.9" ry="24"/><text x="4633" y="419.1">Element</text></g>
<g id="n181" class="n"><ellipse cx="4756" cy="413.5" rx="36" ry="24"/><text x="4756" y="419.1">;</text></g>
<g id="n182" class="n"><ellipse cx="4108" cy="509.5" rx="36" ry="24"/><text x="4108" y="515.1">mut</text></g>
<g id="n183" class="n"><ellipse cx="4241" cy="509.5" rx="36" ry="24"/><text x="4241" y="515.1">ID</text></g>
<g id="n184" class="n"><ellipse cx="4402" cy="509.5" rx="63.9" ry="24"/><text x="4402" y="515.1">Integer</text></g>
<g id="n185" class="n"><ellipse cx="4670" cy="509.5" rx="121.5" ry="24"/><text x="4670" y="515.1">ParenthesisExpr</text></g>
<g id="n186" class="n"><ellipse cx="4340" cy="605.5" rx="36" ry="24"/><text x="4340" y="611.1">b</text></g>
<g id="n187" class="n"><ellipse cx="4437" cy="605.5" rx="36" ry="24"/><text x="4437" y="611.1">i32</text></g>
<g id="n188" class="n"><ellipse cx="4588" cy="605.5" rx="36" ry="24"/><text x="4588" y="611.1">(</text></g>
<g id="n189" class="n"><ellipse cx="4711" cy="605.5" rx="63.9" ry="24"/><text x="4711" y="611.1">CmpExpr</text></g>
<g id="n190" class="n"><ellipse cx="4836" cy="605.5" rx="36" ry="24"/><text x="4836" y="611.1">)</text></g>
<g id="n191" class="n"><ellipse cx="4605" cy="701.5" rx="63.9" ry="24"/><text x="4605" y="707.1">Element</text></g>
<g id="n192" class="n"><ellipse cx="4729" cy="701.5" rx="36" ry="24"/><text x="4729" y="707.1">&gt;</text></g>
<g id="n193" class="n"><ellipse cx="5019" cy="701.5" rx="63.9" ry="24"/><text x="5019" y="707.1">MulExpr</text></g>
<g id="n194" class="n"><ellipse cx="4605" cy="797.5" rx="121.5" ry="24"/><text x="4605" y="803.1">ParenthesisExpr</text></g>
<g id="n195" class="n"><ellipse cx="4957" cy="797.5" rx="63.9" ry="24"/><text x="4957" y="803.1">MulExpr</text></g>
<g id="n196" class="n"><ellipse cx="5080" cy="797.5" rx="36" ry="24"/><text x="5080" y="803.1">/</text></g>
<g id="n197" class="n"><ellipse cx="5209" cy="797.5" rx="56.7" ry="24"/><text x="5209" y="803.1">Factor</text></g>
<g id="n198" class="n"><ellipse cx="4488" cy="893.5" rx="36" ry="24"/><text x="4488" y="899.1">(</text></g>
<g id="n199" class="n"><ellipse cx="4605" cy="893.5" rx="56.7" ry="24"/><text x="4605" y="899.1">Factor</text></g>
<g id="n200" class="n"><ellipse cx="4723" cy="893.5" rx="36" ry="24"/><text x="4723" y="899.1">)</text></g>
<g id="n201" class="n"><ellipse cx="4840" cy="893.5" rx="56.7" ry="24"/><text x="4840" y="899.1">Factor</text></g>
<g id="n202" class="n"><ellipse cx="4957" cy="893.5" rx="36" ry="24"/><text x="4957" y="899.1">*</text></g>
<g id="n203" class="n"><ellipse cx="5075" cy="893.5" rx="56.7" ry="24"/><text x="5075" y="899.1">Factor</text></g>
<g id="n204" class="n"><ellipse cx="5219" cy="893.5" rx="63.9" ry="24"/><text x="5219" y="899.1">Element</text></g>
<g id="n205" class="n"><ellipse cx="4605" cy="989.5" rx="63.9" ry="24"/><text x="4605" y="995.1">Element</text></g>
<g id="n206" class="n"><ellipse cx="4840" cy="989.5" rx="63.9" ry="24"/><text x="4840" y="995.1">Element</text></g>
<g id="n207" class="n"><ellipse cx="5075" cy="989.5" rx="63.9" ry="24"/><text x="5075" y="995.1">Element</text></g>
<g id="n208" class="n"><ellipse cx="5219" cy="989.5" rx="56.7" ry="24"/><text x="5219" y="995.1">Number</text></g>
<g id="n209" class="n"><ellipse cx="4605" cy="1085.5" rx="56.7" ry="24"/><text x="4605" y="1091.1">Number</text></g>
<g id="n210" class="n"><ellipse cx="4840" cy="1085.5" rx="56.7" ry="24"/><text x="4840" y="1091.1">Number</text></g>
<g id="n211" class="n"><ellipse cx="5075" cy="1085.5" rx="56.7" ry="24"/><text x="5075" y="1091.1">Number</text></g>
<g id="n212" class="n"><ellipse cx="5219" cy="1085.5" rx="36" ry="24"/><text x="5219" y="1091.1">1</text></g>
<g id="n213" class="n"><ellipse cx="4605" cy="1181.5" rx="36" ry="24"/><text x="4605" y="1187.1">2</text></g>
<g id="n214" class="n"><ellipse cx="4840" cy="1181.5" rx="36" ry="24"/><text x="4840" y="1187.1">1</text></g>
<g id="n215" class="n"><ellipse cx="5075" cy="1181.5" rx="36" ry="24"/><text x="5075" y="1187.1">5</text></g>
<g id="n216" class="n"><ellipse cx="5031" cy="221.5" rx="114.3" ry="24"/><text x="5031" y="227.1">FuncHeaderDecl</text></g>
<g id="n217" class="n"><ellipse cx="5438" cy="221.5" rx="78.3" ry="24"/><text x="5438" y="227.1">BlockStmt</text></g>
<g id="n218" class="n"><ellipse cx="4744" cy="317.5" rx="36" ry="24"/><text x="4744" y="323.1">fn</text></g>
<g id="n219" class="n"><ellipse cx="4840" cy="317.5" rx="36" ry="24"/><text x="4840" y="323.1">ID</text></g>
<g id="n220" class="n"><ellipse cx="4936" cy="317.5" rx="36" ry="24"/><text x="4936" y="323.1">(</text></g>
<g id="n221" class="n"><ellipse cx="5031" cy="317.5" rx="36" ry="24"/><text x="5031" y="323.1">)</text></g>
<g id="n222" class="n"><ellipse cx="5127" cy="317.5" rx="36" ry="24"/><text x="5127" y="323.1">-&gt;</text></g>
<g id="n223" class="n"><ellipse cx="5252" cy="317.5" rx="63.9" ry="24"/><text x="5252" y="323.1">VarType</text></g>
<g id="n224" class="n"><ellipse cx="5376" cy="317.5" rx="36" ry="24"/><text x="5376" y="323.1">{</text></g>
<g id="n225" class="n"><ellipse cx="5500" cy="317.5" rx="63.9" ry="24"/><text x="5500" y="323.1">RetStmt</text></g>
<g id="n226" class="n"><ellipse cx="5623" cy="317.5" rx="36" ry="24"/><text x="5623" y="323.1">}</text></g>
<g id="n227" class="n"><ellipse cx="4853" cy="413.5" rx="36" ry="24"/><text x="4853" y="419.1">f2</text></g>
<g id="n228" class="n"><ellipse cx="5238" cy="413.5" rx="63.9" ry="24"/><text x="5238" y="419.1">Integer</text></g>
<g id="n229" class="n"><ellipse cx="5384" cy="413.5" rx="56.7" ry="24"/><text x="5384" y="419.1">return</text></g>
<g id="n230" class="n"><ellipse cx="5528" cy="413.5" rx="63.9" ry="24"/><text x="5528" y="419.1">CmpExpr</text></g>
<g id="n231" class="n"><ellipse cx="5653" cy="413.5" rx="36" ry="24"/><text x="5653" y="419.1">;</text></g>
<g id="n232" class="n"><ellipse cx="5238" cy="509.5" rx="36" ry="24"/><text x="5238" y="515.1">i32</text></g>
<g id="n233" class="n"><ellipse cx="5412" cy="509.5" rx="56.7" ry="24"/><text x="5412" y="515.1">Factor</text></g>
<g id="n234" class="n"><ellipse cx="5528" cy="509.5" rx="36" ry="24"/><text x="5528" y="515.1">&lt;</text></g>
<g id="n235" class="n"><ellipse cx="5646" cy="509.5" rx="56.7" ry="24"/><text x="5646" y="515.1">Factor</text></g>
<g id="n236" class="n"><ellipse cx="5412" cy="605.5" rx="63.9" ry="24"/><text x="5412" y="611.1">Element</text></g>
<g id="n237" class="n"><ellipse cx="5646" cy="605.5" rx="63.9" ry="24"/><text x="5646" y="611.1">Element</text></g>
<g id="n238" class="n"><ellipse cx="5412" cy="701.5" rx="56.7" ry="24"/><text x="5412" y="707.1">Number</text></g>
<g id="n239" class="n"><ellipse cx="5646" cy="701.5" rx="56.7" ry="24"/><text x="5646" y="707.1">Number</text></g>
<g id="n240" class="n"><ellipse cx="5412" cy="797.5" rx="36" ry="24"/><text x="5412" y="803.1">666</text></g>
<g id="n241" class="n"><ellipse cx="5646" cy="797.5" rx="36" ry="24"/><text x="5646" y="803.1">999</text></g>
<g id="n242" class="n"><ellipse cx="5864" cy="221.5" rx="114.3" ry="24"/><text x="5864" y="227.1">FuncHeaderDecl</text></g>
<g id="n243" class="n"><ellipse cx="6602" cy="221.5" rx="78.3" ry="24"/><text x="6602" y="227.1">BlockStmt</text></g>
<g id="n244" class="n"><ellipse cx="5720" cy="317.5" rx="36" ry="24"/><text x="5720" y="323.1">fn</text></g>
<g id="n245" class="n"><ellipse cx="5816" cy="317.5" rx="36" ry="24"/><text x="5816" y="323.1">ID</text></g>
<g id="n246" class="n"><ellipse cx="5912" cy="317.5" rx="36" ry="24"/><text x="5912" y="323.1">(</text></g>
<g id="n247" class="n"><ellipse cx="6008" cy="317.5" rx="36" ry="24"/><text x="6008" y="323.1">)</text></g>
<g id="n248" class="n"><ellipse cx="6125" cy="317.5" rx="36" ry="24"/><text x="6125" y="323.1">{</text></g>
<g id="n249" class="n"><ellipse cx="6321" cy="317.5" rx="135.9" ry="24"/><text x="6321" y="323.1">VarDeclAssignStmt</text></g>
<g id="n250" class="n"><ellipse cx="6602" cy="317.5" rx="71.1" ry="24"/><text x="6602" y="323.1">ExprStmt</text></g>
<g id="n251" class="n"><ellipse cx="6810" cy="317.5" rx="71.1" ry="24"/><text x="6810" y="323.1">ExprStmt</text></g>
<g id="n252" class="n"><ellipse cx="7183" cy="317.5" rx="135.9" ry="24"/><text x="7183" y="323.1">VarDeclAssignStmt</text></g>
<g id="n253" class="n"><ellipse cx="7379" cy="317.5" rx="36" ry="24"/><text x="7379" y="323.1">}</text></g>
<g id="n254" class="n"><ellipse cx="5794" cy="413.5" rx="42.3" ry="24"/><text x="5794" y="419.1">main</text></g>
<g id="n255" class="n"><ellipse cx="5897" cy="413.5" rx="36" ry="24"/><text x="5897" y="419.1">let</text></g>
<g id="n256" class="n"><ellipse cx="6050" cy="413.5" rx="92.7" ry="24"/><text x="6050" y="419.1">VarDeclBody</text></g>
<g id="n257" class="n"><ellipse cx="6204" cy="413.5" rx="36" ry="24"/><text x="6204" y="419.1">=</text></g>
<g id="n258" class="n"><ellipse cx="6321" cy="413.5" rx="56.7" ry="24"/><text x="6321" y="419.1">Factor</text></g>
<g id="n259" class="n"><ellipse cx="6438" cy="413.5" rx="36" ry="24"/><text x="6438" y="419.1">;</text></g>
<g id="n260" class="n"><ellipse cx="6562" cy="413.5" rx="63.9" ry="24"/><text x="6562" y="419.1">Element</text></g>
<g id="n261" class="n"><ellipse cx="6686" cy="413.5" rx="36" ry="24"/><text x="6686" y="419.1">;</text></g>
<g id="n262" class="n"><ellipse cx="6810" cy="413.5" rx="63.9" ry="24"/><text x="6810" y="419.1">Element</text></g>
<g id="n263" class="n"><ellipse cx="6934" cy="413.5" rx="36" ry="24"/><text x="6934" y="419.1">;</text></g>
<g id="n264" class="n"><ellipse cx="7030" cy="413.5" rx="36" ry="24"/><text x="7030" y="419.1">let</text></g>
<g id="n265" class="n"><ellipse cx="7183" cy="413.5" rx="92.7" ry="24"/><text x="7183" y="419.1">VarDeclBody</text></g>
<g id="n266" class="n"><ellipse cx="7337" cy="413.5" rx="36" ry="24"/><text x="7337" y="419.1">=</text></g>
<g id="n267" class="n"><ellipse cx="7461" cy="413.5" rx="63.9" ry="24"/><text x="7461" y="419.1">AddExpr</text></g>
<g id="n268" class="n"><ellipse cx="7585" cy="413.5" rx="36" ry="24"/><text x="7585" y="419.1">;</text></g>
<g id="n269" class="n"><ellipse cx="5982" cy="509.5" rx="36" ry="24"/><text x="5982" y="515.1">mut</text></g>
<g id="n270" class="n"><ellipse cx="6078" cy="509.5" rx="36" ry="24"/><text x="6078" y="515.1">ID</text></g>
<g id="n271" class="n"><ellipse cx="6273" cy="509.5" rx="63.9" ry="24"/><text x="6273" y="515.1">Element</text></g>
<g id="n272" class="n"><ellipse cx="6562" cy="509.5" rx="71.1" ry="24"/><text x="6562" y="515.1">CallExpr</text></g>
<g id="n273" class="n"><ellipse cx="6877" cy="509.5" rx="71.1" ry="24"/><text x="6877" y="515.1">CallExpr</text></g>
<g id="n274" class="n"><ellipse cx="7125" cy="509.5" rx="36" ry="24"/><text x="7125" y="515.1">mut</text></g>
<g id="n275" class="n"><ellipse cx="7220" cy="509.5" rx="36" ry="24"/><text x="7220" y="515.1">ID</text></g>
<g id="n276" class="n"><ellipse cx="7344" cy="509.5" rx="56.7" ry="24"/><text x="7344" y="515.1">Factor</text></g>
<g id="n277" class="n"><ellipse cx="7461" cy="509.5" rx="36" ry="24"/><text x="7461" y="515.1">+</text></g>
<g id="n278" class="n"><ellipse cx="7579" cy="509.5" rx="56.7" ry="24"/><text x="7579" y="515.1">Factor</text></g>
<g id="n279" class="n"><ellipse cx="6078" cy="605.5" rx="36" ry="24"/><text x="6078" y="611.1">a</text></g>
<g id="n280" class="n"><ellipse cx="6224" cy="605.5" rx="56.7" ry="24"/><text x="6224" y="611.1">Number</text></g>
<g id="n281" class="n"><ellipse cx="6341" cy="605.5" rx="36" ry="24"/><text x="6341" y="611.1">ID</text></g>
<g id="n282" class="n"><ellipse cx="6437" cy="605.5" rx="36" ry="24"/><text x="6437" y="611.1">(</text></g>
<g id="n283" class="n"><ellipse cx="6562" cy="605.5" rx="63.9" ry="24"/><text x="6562" y="611.1">ArgList</text></g>
<g id="n284" class="n"><ellipse cx="6685" cy="605.5" rx="36" ry="24"/><text x="6685" y="611.1">)</text></g>
<g id="n285" class="n"><ellipse cx="6781" cy="605.5" rx="36" ry="24"/><text x="6781" y="611.1">ID</text></g>
<g id="n286" class="n"><ellipse cx="6877" cy="605.5" rx="36" ry="24"/><text x="6877" y="611.1">(</text></g>
<g id="n287" class="n"><ellipse cx="7001" cy="605.5" rx="63.9" ry="24"/><text x="7001" y="611.1">ArgList</text></g>
<g id="n288" class="n"><ellipse cx="7125" cy="605.5" rx="36" ry="24"/><text x="7125" y="611.1">)</text></g>
<g id="n289" class="n"><ellipse cx="7220" cy="605.5" rx="36" ry="24"/><text x="7220" y="611.1">m</text></g>
<g id="n290" class="n"><ellipse cx="7344" cy="605.5" rx="63.9" ry="24"/><text x="7344" y="611.1">Element</text></g>
<g id="n291" class="n"><ellipse cx="7579" cy="605.5" rx="63.9" ry="24"/><text x="7579" y="611.1">Element</text></g>
<g id="n292" class="n"><ellipse cx="6224" cy="701.5" rx="36" ry="24"/><text x="6224" y="707.1">0</text></g>
<g id="n293" class="n"><ellipse cx="6328" cy="701.5" rx="36" ry="24"/><text x="6328" y="707.1">f1</text></g>
<g id="n294" class="n"><ellipse cx="6445" cy="701.5" rx="56.7" ry="24"/><text x="6445" y="707.1">Factor</text></g>
<g id="n295" class="n"><ellipse cx="6591" cy="701.5" rx="63.9" ry="24"/><text x="6591" y="707.1">CmpExpr</text></g>
<g id="n296" class="n"><ellipse cx="6781" cy="701.5" rx="36" ry="24"/><text x="6781" y="707.1">f1</text></g>
<g id="n297" class="n"><ellipse cx="7001" cy="701.5" rx="56.7" ry="24"/><text x="7001" y="707.1">Factor</text></g>
<g id="n298" class="n"><ellipse cx="7147" cy="701.5" rx="56.7" ry="24"/><text x="7147" y="707.1">Factor</text></g>
<g id="n299" class="n"><ellipse cx="7344" cy="701.5" rx="56.7" ry="24"/><text x="7344" y="707.1">Number</text></g>
<g id="n300" class="n"><ellipse cx="7579" cy="701.5" rx="71.1" ry="24"/><text x="7579" y="707.1">CallExpr</text></g>
<g id="n301" class="n"><ellipse cx="6196" cy="797.5" rx="63.9" ry="24"/><text x="6196" y="803.1">Element</text></g>
<g id="n302" class="n"><ellipse cx="6461" cy="797.5" rx="63.9" ry="24"/><text x="6461" y="803.1">AddExpr</text></g>
<g id="n303" class="n"><ellipse cx="6591" cy="797.5" rx="36" ry="24"/><text x="6591" y="803.1">&gt;</text></g>
<g id="n304" class="n"><ellipse cx="6737" cy="797.5" rx="63.9" ry="24"/><text x="6737" y="803.1">Element</text></g>
<g id="n305" class="n"><ellipse cx="7001" cy="797.5" rx="63.9" ry="24"/><text x="7001" y="803.1">Element</text></g>
<g id="n306" class="n"><ellipse cx="7153" cy="797.5" rx="63.9" ry="24"/><text x="7153" y="803.1">Element</text></g>
<g id="n307" class="n"><ellipse cx="7344" cy="797.5" rx="36" ry="24"/><text x="7344" y="803.1">1</text></g>
<g id="n308" class="n"><ellipse cx="7483" cy="797.5" rx="36" ry="24"/><text x="7483" y="803.1">ID</text></g>
<g id="n309" class="n"><ellipse cx="7579" cy="797.5" rx="36" ry="24"/><text x="7579" y="803.1">(</text></g>
<g id="n310" class="n"><ellipse cx="7674" cy="797.5" rx="36" ry="24"/><text x="7674" y="803.1">)</text></g>
<g id="n311" class="n"><ellipse cx="6091" cy="893.5" rx="36" ry="24"/><text x="6091" y="899.1">ID</text></g>
<g id="n312" class="n"><ellipse cx="6221" cy="893.5" rx="56.7" ry="24"/><text x="6221" y="899.1">Factor</text></g>
<g id="n313" class="n"><ellipse cx="6345" cy="893.5" rx="36" ry="24"/><text x="6345" y="899.1">+</text></g>
<g id="n314" class="n"><ellipse cx="6469" cy="893.5" rx="63.9" ry="24"/><text x="6469" y="899.1">MulExpr</text></g>
<g id="n315" class="n"><ellipse cx="6760" cy="893.5" rx="121.5" ry="24"/><text x="6760" y="899.1">ParenthesisExpr</text></g>
<g id="n316" class="n"><ellipse cx="7008" cy="893.5" rx="56.7" ry="24"/><text x="7008" y="899.1">Number</text></g>
<g id="n317" class="n"><ellipse cx="7153" cy="893.5" rx="56.7" ry="24"/><text x="7153" y="899.1">Number</text></g>
<g id="n318" class="n"><ellipse cx="7483" cy="893.5" rx="36" ry="24"/><text x="7483" y="899.1">f2</text></g>
<g id="n319" class="n"><ellipse cx="6083" cy="989.5" rx="36" ry="24"/><text x="6083" y="995.1">a</text></g>
<g id="n320" class="n"><ellipse cx="6206" cy="989.5" rx="63.9" ry="24"/><text x="6206" y="995.1">Element</text></g>
<g id="n321" class="n"><ellipse cx="6352" cy="989.5" rx="56.7" ry="24"/><text x="6352" y="995.1">Factor</text></g>
<g id="n322" class="n"><ellipse cx="6469" cy="989.5" rx="36" ry="24"/><text x="6469" y="995.1">/</text></g>
<g id="n323" class="n"><ellipse cx="6586" cy="989.5" rx="56.7" ry="24"/><text x="6586" y="995.1">Factor</text></g>
<g id="n324" class="n"><ellipse cx="6704" cy="989.5" rx="36" ry="24"/><text x="6704" y="995.1">(</text></g>
<g id="n325" class="n"><ellipse cx="6828" cy="989.5" rx="63.9" ry="24"/><text x="6828" y="995.1">MulExpr</text></g>
<g id="n326" class="n"><ellipse cx="6952" cy="989.5" rx="36" ry="24"/><text x="6952" y="995.1">)</text></g>
<g id="n327" class="n"><ellipse cx="7047" cy="989.5" rx="36" ry="24"/><text x="7047" y="995.1">1</text></g>
<g id="n328" class="n"><ellipse cx="7153" cy="989.5" rx="36" ry="24"/><text x="7153" y="995.1">0</text></g>
<g id="n329" class="n"><ellipse cx="6206" cy="1085.5" rx="56.7" ry="24"/><text x="6206" y="1091.1">Number</text></g>
<g id="n330" class="n"><ellipse cx="6352" cy="1085.5" rx="63.9" ry="24"/><text x="6352" y="1091.1">Element</text></g>
<g id="n331" class="n"><ellipse cx="6575" cy="1085.5" rx="63.9" ry="24"/><text x="6575" y="1091.1">Element</text></g>
<g id="n332" class="n"><ellipse cx="6721" cy="1085.5" rx="56.7" ry="24"/><text x="6721" y="1091.1">Factor</text></g>
<g id="n333" class="n"><ellipse cx="6838" cy="1085.5" rx="36" ry="24"/><text x="6838" y="1091.1">*</text></g>
<g id="n334" class="n"><ellipse cx="6956" cy="1085.5" rx="56.7" ry="24"/><text x="6956" y="1091.1">Factor</text></g>
<g id="n335" class="n"><ellipse cx="6206" cy="1181.5" rx="36" ry="24"/><text x="6206" y="1187.1">666</text></g>
<g id="n336" class="n"><ellipse cx="6352" cy="1181.5" rx="56.7" ry="24"/><text x="6352" y="1187.1">Number</text></g>
<g id="n337" class="n"><ellipse cx="6575" cy="1181.5" rx="56.7" ry="24"/><text x="6575" y="1187.1">Number</text></g>
<g id="n338" class="n"><ellipse cx="6721" cy="1181.5" rx="63.9" ry="24"/><text x="6721" y="1187.1">Element</text></g>
<g id="n339" class="n"><ellipse cx="6956" cy="1181.5" rx="63.9" ry="24"/><text x="6956" y="1187.1">Element</text></g>
<g id="n340" class="n"><ellipse cx="6352" cy="1277.5" rx="36" ry="24"/><text x="6352" y="1283.1">999</text></g>
<g id="n341" class="n"><ellipse cx="6575" cy="1277.5" rx="36" ry="24"/><text x="6575" y="1283.1">1</text></g>
<g id="n342" class="n"><ellipse cx="6721" cy="1277.5" rx="56.7" ry="24"/><text x="6721" y="1283.1">Number</text></g>
<g id="n343" class="n"><ellipse cx="6956" cy="1277.5" rx="56.7" ry="24"/><text x="6956" y="1283.1">Number</text></g>
<g id="n344" class="n"><ellipse cx="6721" cy="1373.5" rx="36" ry="24"/><text x="6721" y="1379.1">2</text></g>
<g id="n345" class="n"><ellipse cx="6956" cy="1373.5" rx="36" ry="24"/><text x="6956" y="1379.1">2</text></g>
</g>
</svg>
